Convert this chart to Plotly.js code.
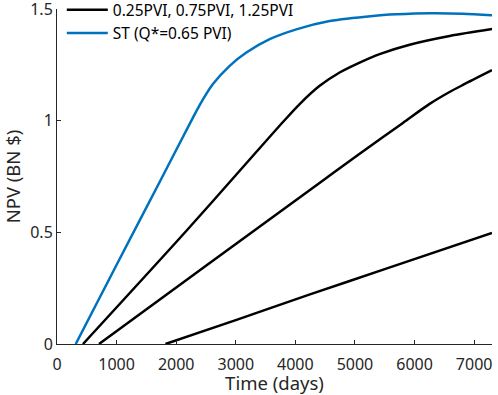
<!DOCTYPE html>
<html>
<head>
<meta charset="utf-8">
<script src="https://cdn.plot.ly/plotly-3.0.1.min.js"></script>
<style>
  body { margin: 0; background: #fff; }
  #chart { width: 498px; height: 395px; }
</style>
</head>
<body>
<div id="chart"></div>
<script>
// values
var q125Days = [436, 2165, 3233, 3792, 4072, 4408, 4743, 5079, 5414, 5918, 6589, 7300];
var q125Npv  = [0, 0.505, 0.826, 0.994, 1.0745, 1.156, 1.2156, 1.26, 1.298, 1.34, 1.379, 1.41];

var q075Days = [705, 2500, 4463, 5079, 5805, 6253, 6565, 6812, 7300];
var q075Npv  = [0, 0.35, 0.732, 0.852, 0.99, 1.075, 1.125, 1.16, 1.226];

var q025Days = [1820, 3000, 4245, 5500, 7300];
var q025Npv  = [0, 0.107, 0.222, 0.335, 0.497];

var stDays = [314, 1040, 1751, 2255, 2394, 2617, 2898, 3178, 3569, 4017, 4576, 5302, 5695, 6253, 6807, 7300];
var stNpv  = [0, 0.375, 0.74, 1.0, 1.07, 1.164, 1.2455, 1.305, 1.365, 1.409, 1.446, 1.469, 1.476, 1.481, 1.479, 1.472];

var xTicks = [0, 1000, 2000, 3000, 4000, 5000, 6000, 7000];
var yTicks = [0, 0.5, 1, 1.5];

var black = '#000000';
var blue = '#0072BD';
var lineW = 2.5;
var smooth = 0.8;

var traces = [
  { x: q125Days, y: q125Npv, mode: 'lines', name: '0.25PVI, 0.75PVI, 1.25PVI',
    line: { color: black, width: lineW, shape: 'spline', smoothing: smooth }, legendgroup: 'q' },
  { x: q075Days, y: q075Npv, mode: 'lines', showlegend: false,
    line: { color: black, width: lineW, shape: 'spline', smoothing: smooth }, legendgroup: 'q' },
  { x: q025Days, y: q025Npv, mode: 'lines', showlegend: false,
    line: { color: black, width: lineW, shape: 'spline', smoothing: smooth }, legendgroup: 'q' },
  { x: stDays, y: stNpv, mode: 'lines', name: 'ST (Q*=0.65 PVI)',
    line: { color: blue, width: lineW, shape: 'spline', smoothing: smooth } }
];

var axisCommon = {
  showline: true, linecolor: '#262626', linewidth: 1,
  ticks: 'inside', ticklen: 4, tickcolor: '#262626',
  showgrid: false, zeroline: false, mirror: false, automargin: false,
  ticklabeloverflow: 'allow',
  tickfont: { family: 'Noto Sans', size: 16, color: '#262626' }
};

var layout = {
  width: 498, height: 395,
  margin: { l: 57, r: 6, t: 9, b: 51, autoexpand: false },
  paper_bgcolor: '#fff', plot_bgcolor: '#fff',
  showlegend: true,
  legend: {
    x: 0.011, y: 1.047, xanchor: 'left', yanchor: 'top',
    bgcolor: 'rgba(0,0,0,0)', borderwidth: 0,
    font: { family: 'Noto Sans', size: 15.5, color: '#000' },
    itemwidth: 41,
    tracegroupgap: 0
  },
  xaxis: Object.assign({}, axisCommon, {
    range: [0, 7300], tickvals: xTicks, ticklabelstandoff: 6,
    title: { text: 'Time (days)', font: { family: 'Noto Sans', size: 18.5, color: '#262626' } }
  }),
  yaxis: Object.assign({}, axisCommon, {
    range: [0, 1.5], tickvals: yTicks, ticktext: ['0', '0.5', '1', '1.5'],
    title: { text: 'NPV (BN $)', font: { family: 'Noto Sans', size: 18.5, color: '#262626' }, standoff: 5 }
  })
};

Plotly.newPlot('chart', traces, layout, { displayModeBar: false, staticPlot: true });
</script>
</body>
</html>
